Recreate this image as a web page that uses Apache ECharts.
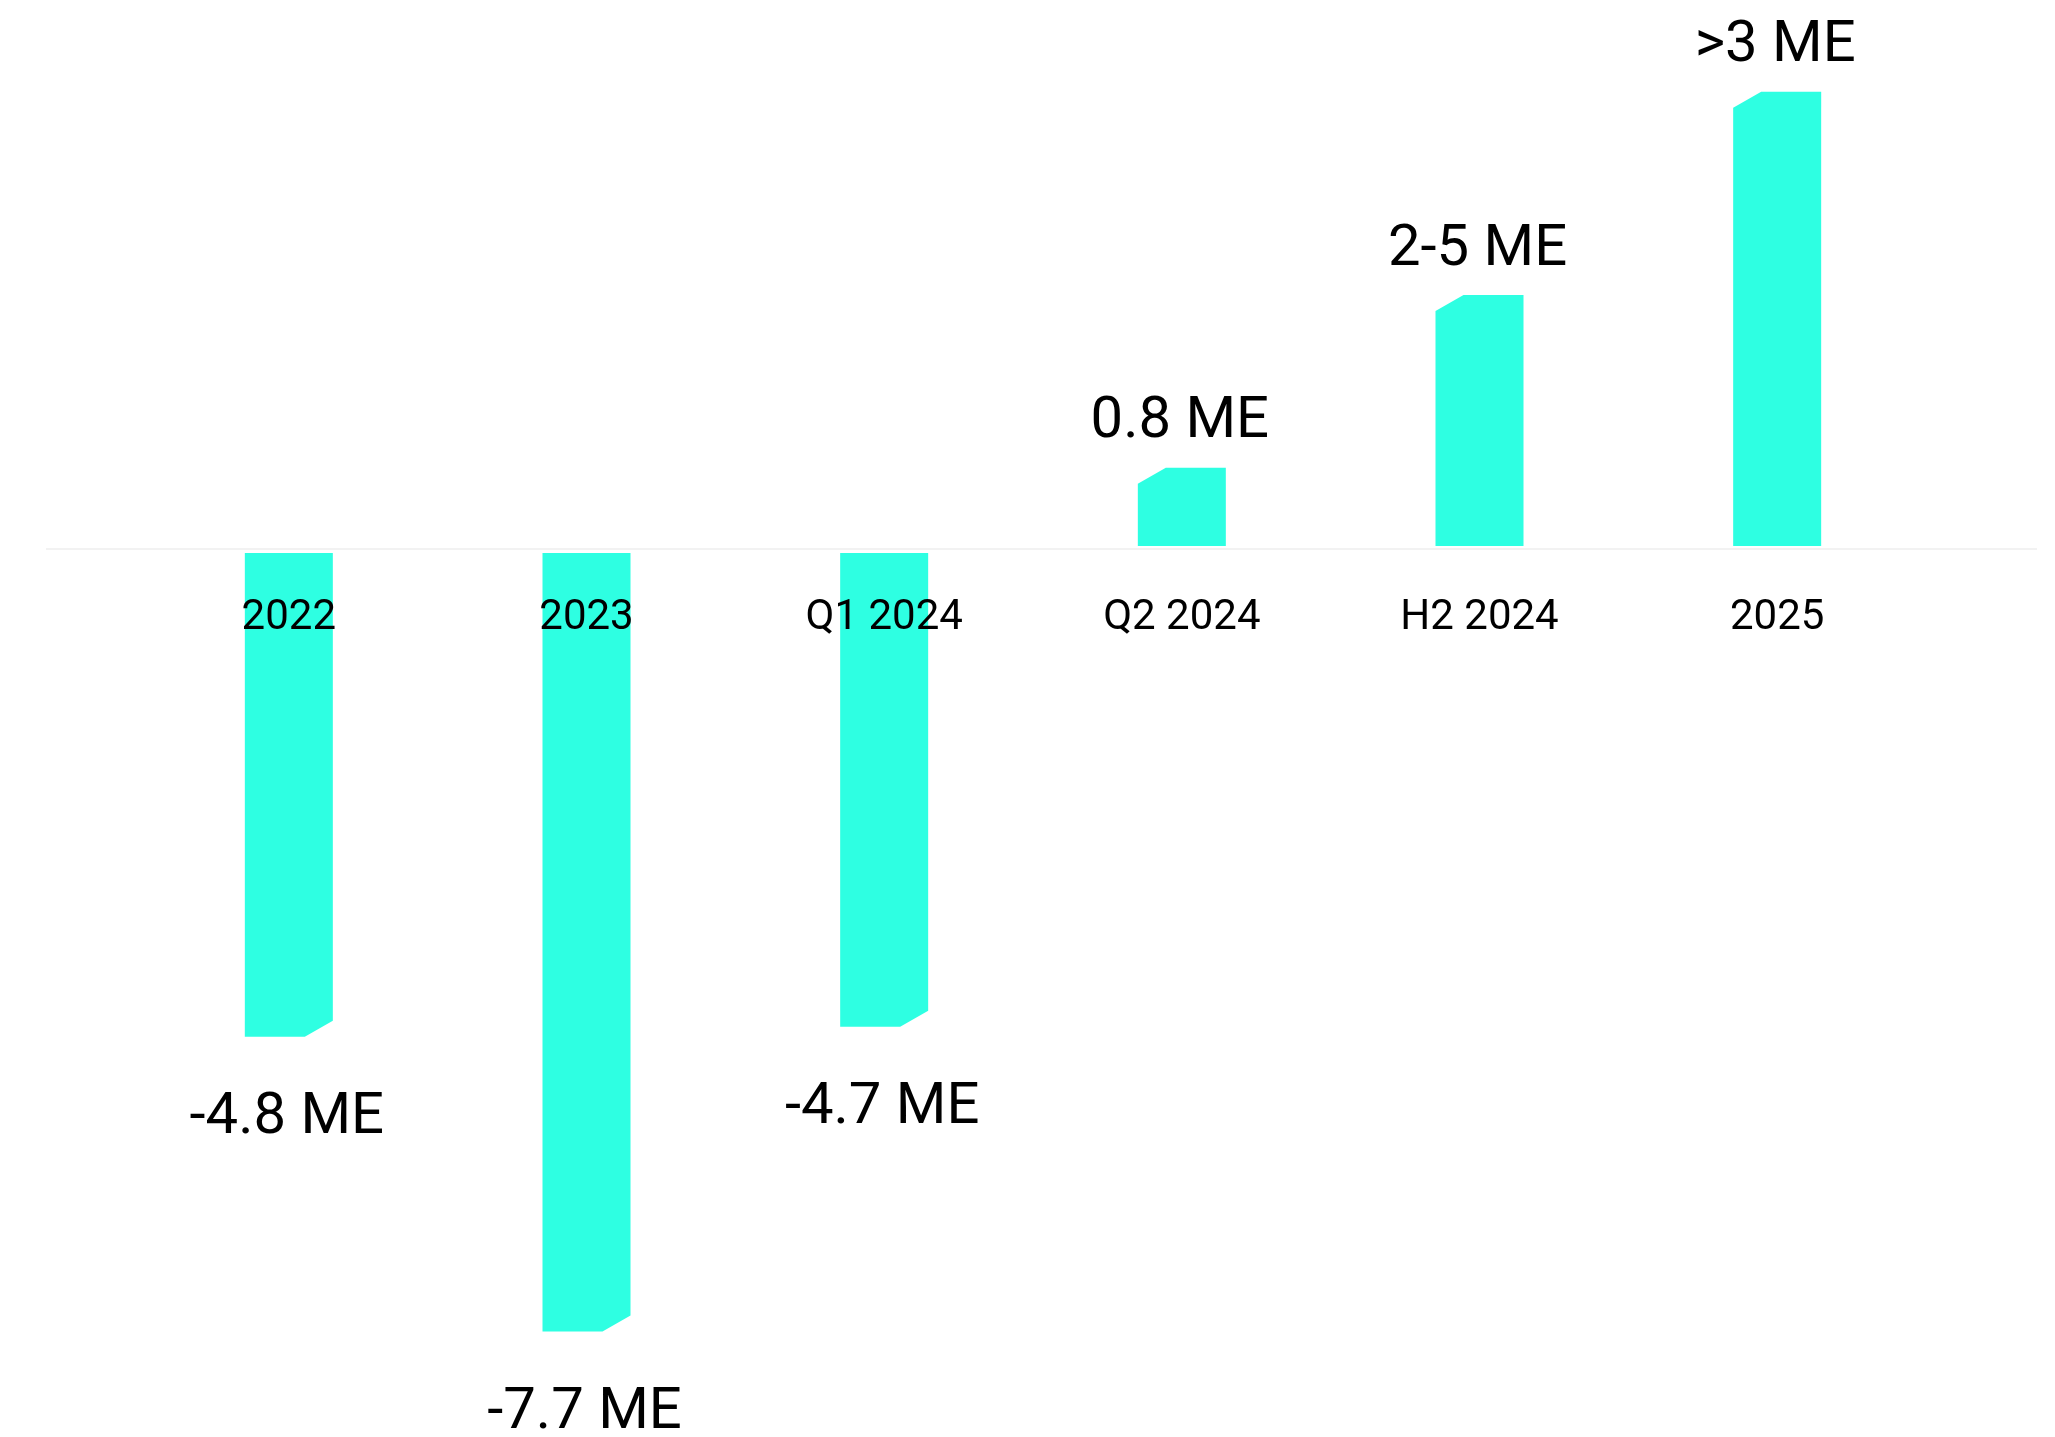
<!DOCTYPE html>
<html><head><meta charset="utf-8">
<script src="https://cdn.jsdelivr.net/npm/echarts@6/dist/echarts.min.js"></script>
<style>html,body{margin:0;padding:0;background:#fff}#c{width:2055px;height:1437px}</style>
</head><body><div id="c"></div>
<script>
const categories = ['2022', '2023', 'Q1 2024', 'Q2 2024', 'H2 2024', '2025'];
const values = [-4.8, -7.7, -4.7, 0.8, 2.5, 4.5];
const valueLabels = ['-4.8 ME', '-7.7 ME', '-4.7 ME', '0.8 ME', '2-5 ME', '>3 ME'];

const chart = echarts.init(document.getElementById('c'), null, {renderer: 'canvas'});
const BAR_W = 88, CUT_X = 28, CUT_Y = 16, GAP_POS = 3, GAP_NEG = 4;
const BAR_COLOR = '#2effe2';

function renderBar(params, api) {
  const i = api.value(0);
  const v = api.value(1);
  const p0 = api.coord([i, 0]);
  const p1 = api.coord([i, v]);
  const cx = p0[0];
  const x0 = cx - BAR_W / 2, x1 = cx + BAR_W / 2;
  let pts, ty;
  if (v >= 0) {
    const yb = p0[1] - GAP_POS, yt = p1[1];
    pts = [[x0, yb], [x0, yt + CUT_Y], [x0 + CUT_X, yt], [x1, yt], [x1, yb]];
    ty = yt - 45;
  } else {
    const yt = p0[1] + GAP_NEG, yb = p1[1];
    pts = [[x0, yt], [x1, yt], [x1, yb - CUT_Y], [x1 - CUT_X, yb], [x0, yb]];
    ty = yb + 82;
  }
  return {
    type: 'group',
    children: [
      {type: 'polygon', z2: 1, shape: {points: pts}, style: {fill: BAR_COLOR}},
      {type: 'text', z2: 5, style: {text: valueLabels[params.dataIndex], x: cx - 2, y: ty,
        align: 'center', verticalAlign: 'middle', fontSize: 58, fontFamily: 'Roboto', fill: '#000'}},
      {type: 'text', z2: 5, style: {text: categories[params.dataIndex], x: cx, y: p0[1] + 69,
        align: 'center', verticalAlign: 'middle', fontSize: 42, fontFamily: 'Roboto', fill: '#000'}}
    ]
  };
}

chart.setOption({
  animation: false,
  backgroundColor: '#fff',
  grid: {left: 140, right: 129, top: 41, bottom: 75, containLabel: false, outerBoundsMode: 'none'},
  xAxis: {
    type: 'category',
    data: categories,
    axisLine: {show: false},
    axisTick: {show: false},
    axisLabel: {show: false},
    splitLine: {show: false}
  },
  yAxis: {type: 'value', min: -8, max: 5, show: false, splitLine: {show: false}},
  series: [{
    type: 'custom',
    renderItem: renderBar,
    data: values.map((v, i) => [i, v]),
    encode: {x: 0, y: 1}
  }]
});

const y0 = chart.convertToPixel({yAxisIndex: 0}, 0);
chart.setOption({
  graphic: [{type: 'line', z: -1, shape: {x1: 46, y1: y0, x2: 2037, y2: y0},
    style: {stroke: '#f2f2f2', lineWidth: 2}}]
});
</script>
</body></html>
